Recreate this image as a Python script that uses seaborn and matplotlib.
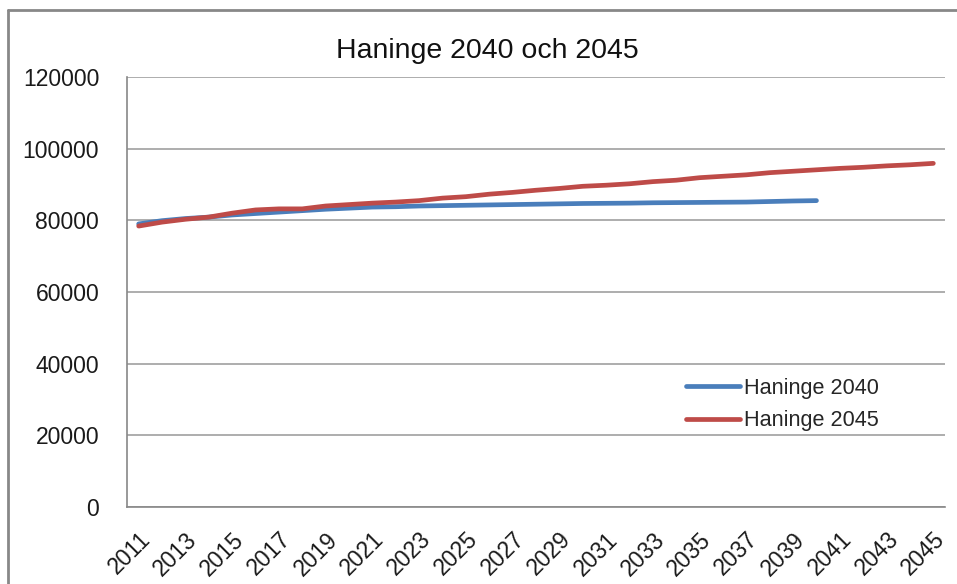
import numpy as np
import pandas as pd
import matplotlib
matplotlib.use("Agg")
import matplotlib.pyplot as plt
import seaborn as sns
from matplotlib.lines import Line2D

years = list(range(2011, 2046))
haninge_2040 = [79000, 79900, 80500, 80900, 81500, 81900, 82300, 82700, 83100, 83400,
                83700, 83800, 84000, 84100, 84200, 84300, 84400, 84500, 84600, 84700,
                84750, 84800, 84900, 84950, 85000, 85050, 85100, 85250, 85400, 85500]
haninge_2045 = [78400, 79500, 80300, 80900, 82000, 82900, 83200, 83200, 84000, 84400,
                84800, 85100, 85500, 86200, 86600, 87300, 87800, 88400, 88900, 89500,
                89800, 90200, 90800, 91200, 91900, 92300, 92700, 93300, 93700, 94100,
                94500, 94800, 95200, 95500, 95900]
series_names = ["Haninge 2040", "Haninge 2045"]
title = "Haninge 2040 och 2045"
y_ticks = [0, 20000, 40000, 60000, 80000, 100000, 120000]

df = pd.concat([
    pd.DataFrame({"year": years[:len(haninge_2040)], "value": haninge_2040, "series": series_names[0]}),
    pd.DataFrame({"year": years, "value": haninge_2045, "series": series_names[1]}),
])

sns.set_style("white")
plt.rcParams['font.family'] = ['Liberation Sans', 'DejaVu Sans']

W, H = 957, 584
fig = plt.figure(figsize=(W / 100, H / 100), dpi=100)
ax = fig.add_axes([127 / W, 1 - 507 / H, (945 - 127) / W, (507 - 77) / H])

colors = ["#4a7ebb", "#be4b48"]
sns.lineplot(data=df, x="year", y="value", hue="series", palette=colors,
             linewidth=3.4, ax=ax, legend=False, solid_capstyle="round")

ax.set_xlim(years[0] - 0.5, years[-1] + 0.5)
ax.set_ylim(0, 120000)
ax.set_yticks(y_ticks)
ax.set_yticklabels([str(v) for v in y_ticks], fontsize=16.5, color="#1a1a1a")
ax.set_xticks(years[::2])
ax.set_xticklabels([str(y) for y in years[::2]], rotation=45, ha="right",
                   rotation_mode="anchor", fontsize=16.5, color="#1a1a1a")
ax.set_xticks(np.arange(years[0] - 0.5, years[-1] + 1, 1), minor=True)
ax.tick_params(axis="x", which="major", length=0, pad=15)
ax.tick_params(axis="x", which="minor", length=7, width=1.2, color="#888888", direction="out")
ax.tick_params(axis="y", which="major", length=7, width=1.2, color="#888888", direction="out", pad=13)
ax.set_xlabel("")
ax.set_ylabel("")

ax.grid(axis="y", color="#a0a0a0", linewidth=1.2)
ax.set_axisbelow(True)
for s in ["top", "right"]:
    ax.spines[s].set_visible(False)
for s in ["left", "bottom"]:
    ax.spines[s].set_color("#888888")
    ax.spines[s].set_linewidth(1.2)

handles = [Line2D([0], [0], color=c, linewidth=3.4, solid_capstyle="round") for c in colors]
ax.legend(handles, series_names, loc="upper left",
          bbox_to_anchor=((677 - 127) / (945 - 127), (507 - 369) / (507 - 77)),
          frameon=False, fontsize=15.6, handlelength=2.5, handletextpad=0.2, labelspacing=0.53,
          borderaxespad=0)

fig.text(487 / W, 1 - 58 / H, title, ha="center", va="baseline", fontsize=20.5, color="#111111")

# chart area border
fig.add_artist(Line2D([8 / W, 1], [1 - 10 / H, 1 - 10 / H], color="#888888", linewidth=2,
                      transform=fig.transFigure))
fig.add_artist(Line2D([8 / W, 8 / W], [1 - 10 / H, 0], color="#888888", linewidth=2,
                      transform=fig.transFigure))

fig.savefig("out.png", dpi=100)
